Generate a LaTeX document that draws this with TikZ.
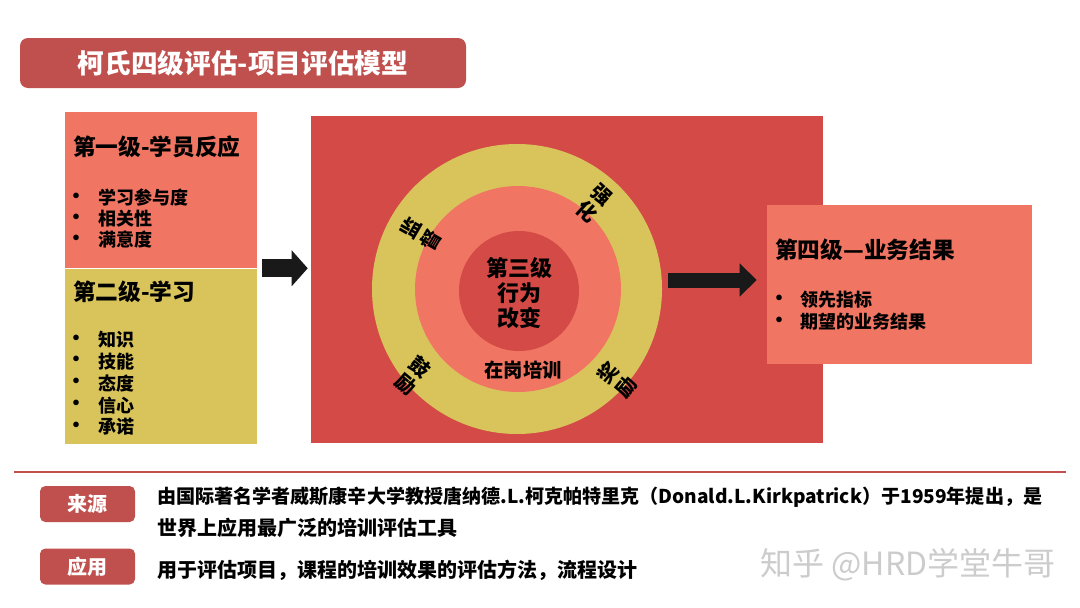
\documentclass[tikz,border=0pt]{standalone}
\usepackage{fontspec}
\setmainfont{Noto Sans CJK SC}
\usepackage{tikz}
\usetikzlibrary{positioning,arrows.meta}
\definecolor{brick}{HTML}{C0504D}
\definecolor{salmon}{HTML}{F07563}
\definecolor{mustard}{HTML}{D9C45C}
\definecolor{fieldred}{HTML}{D34A46}
\tikzstyle{panel}=[
        draw = none,
        inner sep = 0pt,
        rectangle
    ]
\tikzstyle{disc}=[
    draw = none,
    inner sep = 0pt,
    circle
]
\tikzstyle{tag}=[
    fill = brick,
    rounded corners = 4pt,
    text = white,
    minimum width = 71.25pt,
    minimum height = 27pt,
    font = \bfseries\fontsize{15}{15}\selectfont
]
\tikzstyle{heading}=[anchor = west, inner sep = 0pt, font = \bfseries\fontsize{17}{17}\selectfont]
\tikzstyle{item}=[anchor = west, inner sep = 0pt, font = \bfseries\fontsize{13.5}{13.5}\selectfont]
\tikzstyle{bullet}=[inner sep = 0pt, font = \bfseries\fontsize{15}{15}\selectfont]
\tikzstyle{ringtext}=[align = center, inner sep = 0pt, font = \bfseries\fontsize{15}{17}\selectfont]
\tikzstyle{note}=[anchor = west, inner sep = 0pt, font = \bfseries\fontsize{15}{15}\selectfont]
\tikzstyle{block arrow}=[draw = black!90, line width = 13.5pt, -{Triangle[length = 12pt, width = 26.25pt]}]

\begin{document}
\begin{tikzpicture}[x = 0.75pt, y = -0.75pt]
        \useasboundingbox (0,0) rectangle (1080,607);
        \fill[white] (0,0) rectangle (1080,607);

        \node[tag, minimum width = 334.5pt, minimum height = 37.5pt, rounded corners = 6pt,
              font = \bfseries\fontsize{20}{20}\selectfont] (title) at (243,63) {柯氏四级评估-项目评估模型};

        % left column
        \node[panel, fill = salmon, minimum width = 144pt, minimum height = 117pt] (lvl1) at (161,190) {};
        \node[panel, fill = mustard, minimum width = 144pt, minimum height = 131.25pt, below = 0pt of lvl1] (lvl2) {};
        \node[heading] (h1) at (73,147) {第一级-学员反应};
        \foreach \t [count = \i] in {学习参与度, 相关性, 满意度} {
            \node[bullet] (b1-\i) at (76, 177+21*\i) {•};
            \node[item] (i1-\i) at (98, 177+21*\i) {\t};
        }
        \node[heading] (h2) at (73,292) {第二级-学习};
        \foreach \t [count = \i] in {知识, 技能, 态度, 信心, 承诺} {
            \node[bullet] (b2-\i) at (76, 318.25+21.75*\i) {•};
            \node[item] (i2-\i) at (98, 318.25+21.75*\i) {\t};
        }

        % level three
        \node[panel, fill = fieldred, minimum width = 384pt, minimum height = 245.25pt] (field) at (567,279.5) {};
        \node[disc, fill = mustard, minimum size = 217.5pt] (ring) at (517,289) {};
        \node[disc, fill = salmon, minimum size = 154.5pt] (job) at (518,289) {};
        \node[disc, fill = fieldred, minimum size = 90pt] (core) at (519,291) {};
        \node[align = center, inner sep = 0pt, font = \bfseries\fontsize{16.5}{19}\selectfont] (l3) at (519,293) {第三级\\行为\\改变};
        \node[inner sep = 0pt, font = \bfseries\fontsize{14.5}{14.5}\selectfont] (ojt) at (523,370) {在岗培训};
        \node[ringtext, rotate = 60] (r1) at (421,234) {监\\督};
        \node[ringtext, rotate = -42] (r2) at (594,203) {强\\化};
        \node[ringtext, rotate = -40] (r3) at (413,376) {鼓\\励};
        \node[ringtext, rotate = 50] (r4) at (617,380) {奖\\励};

        % level four
        \node[panel, fill = salmon, minimum width = 198.75pt, minimum height = 119.25pt] (lvl4) at (899.5,284.5) {};
        \node[heading] (h4) at (775,250) {第四级—业务结果};
        \foreach \t [count = \i] in {领先指标, 期望的业务结果} {
            \node[bullet] (b4-\i) at (779, 278+22*\i) {•};
            \node[item] (i4-\i) at (800, 278+22*\i) {\t};
        }

        \draw[block arrow, shorten <= 3.75pt, shorten >= 2.25pt] (lvl1.south east) -- (lvl1.south east -| field.west);
        \draw[block arrow, line width = 11.25pt, -{Triangle[length = 12.75pt, width = 24pt]}, shorten <= 4.5pt, shorten >= 7.5pt]
            ([yshift = 6.75pt]ring.east) -- ([yshift = 6.75pt]ring.east -| lvl4.west);

        % footer
        \draw[brick, line width = 1.5pt] (14,472) -- (1066,472);
        \node[tag] (src) at (87.5,504) {来源};
        \node[tag] (use) at (87.5,566.5) {应用};
        \node[note, font = \bfseries\fontsize{14.3}{14.3}\selectfont] (n1) at (157,497) {由国际著名学者威斯康辛大学教授唐纳德.L.柯克帕特里克（Donald.L.Kirkpatrick）于1959年提出，是};
        \node[note] (n2) at (157,528) {世界上应用最广泛的培训评估工具};
        \node[note] (n3) at (157,570) {用于评估项目，课程的培训效果的评估方法，流程设计};
        \node[anchor = west, inner sep = 0pt, text = gray!40, font = \fontsize{24}{24}\selectfont] (mark) at (760,565) {知乎 @HRD学堂牛哥};

    \end{tikzpicture}
\end{document}
